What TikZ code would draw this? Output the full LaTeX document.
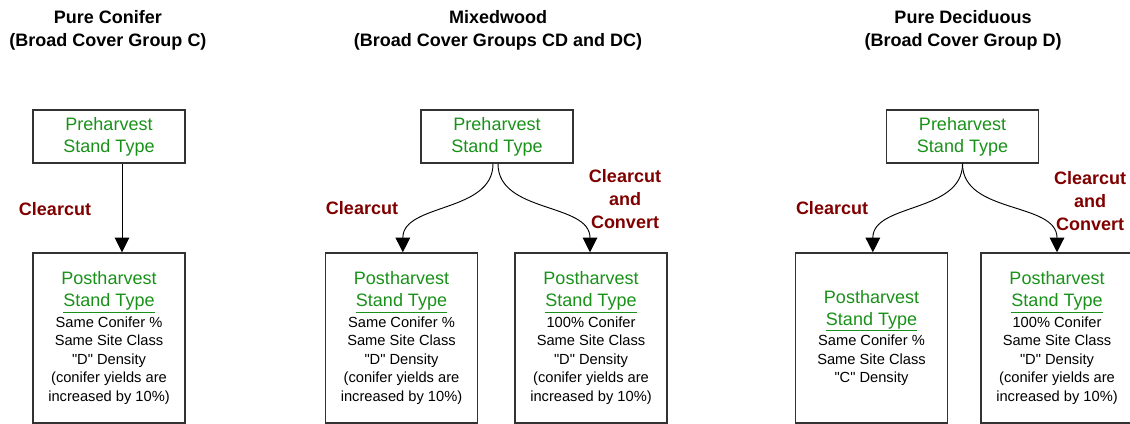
\documentclass[tikz,border=0pt]{standalone}
\usepackage{fontspec}
\setmainfont{Liberation Sans}[Ligatures=TeXOff]
\usepackage{tikz}
\usetikzlibrary{arrows.meta}
\definecolor{mgreen}{RGB}{25,145,25}
\definecolor{mred}{RGB}{128,0,0}
\definecolor{mline}{RGB}{50,50,50}
\def\mboxwidth{114pt}
\def\mprehi{39.75pt}
\def\mposthi{127.5pt}
\newcommand{\mgr}[1]{{\fontsize{13.5}{13.9}\selectfont\color{mgreen}#1}}
\tikzset{
	box/.style={draw=mline, line width=1.1pt, minimum width=\mboxwidth, align=center, inner sep=2pt},
	prebox/.style={box, minimum height=\mprehi, text=mgreen, font=\fontsize{13.5}{16.5}\selectfont},
	postbox/.style={box, minimum height=\mposthi, font=\fontsize{11}{13.9}\selectfont},
	heading/.style={align=center, font=\bfseries\fontsize{13.5}{17.25}\selectfont},
	act/.style={align=center, text=mred, font=\bfseries\fontsize{13.5}{17.25}\selectfont},
	flow/.style={draw=black, line width=0.7pt, -{Triangle[length=11pt,width=11pt]}}
}

\begin{document}
\begin{tikzpicture}[x=0.75pt, y=-0.75pt]
		\useasboundingbox (0,0) rectangle (1130,424);
		% Pure conifer
		\node[heading] (c-title) at (108,30) {Pure Conifer\\(Broad Cover Group C)};
		\node[prebox] (c-pre) at (109,136.5) {Preharvest\\Stand Type};
		\node[postbox] (c-post) at (109,338) {\mgr{Postharvest}\\[2.6pt] \mgr{\underline{Stand Type}}\\[1.6pt] Same Conifer \%\\ Same Site Class\\ "D" Density\\ (conifer yields are\\ increased by 10\%)};
		\draw[flow] ([xshift=9.75pt]c-pre.south) -- ([xshift=9.75pt]c-post.north);
		\node[act] (c-cut) at (55,209) {Clearcut};
		% Mixedwood
		\node[heading] (m-title) at (498,30) {Mixedwood\\(Broad Cover Groups CD and DC)};
		\node[prebox] (m-pre) at (497,136.5) {Preharvest\\Stand Type};
		\node[postbox] (m-post1) at (401.5,338) {\mgr{Postharvest}\\[2.6pt] \mgr{\underline{Stand Type}}\\[1.6pt] Same Conifer \%\\ Same Site Class\\ "D" Density\\ (conifer yields are\\ increased by 10\%)};
		\node[postbox] (m-post2) at (591,338) {\mgr{Postharvest}\\[2.6pt] \mgr{\underline{Stand Type}}\\[1.6pt] 100\% Conifer\\ Same Site Class\\ "D" Density\\ (conifer yields are\\ increased by 10\%)};
		\draw[flow] ([xshift=-3pt]m-pre.south) to[out=-90, in=90] ([xshift=1pt]m-post1.north);
		\draw[flow] ([xshift=0.75pt]m-pre.south) to[out=-90, in=90] ([xshift=-0.75pt]m-post2.north);
		\node[act] (m-cut) at (362,208) {Clearcut};
		\node[act] (m-conv) at (625,199) {Clearcut\\and\\Convert};
		% Pure deciduous
		\node[heading] (d-title) at (963,30) {Pure Deciduous\\(Broad Cover Group D)};
		\node[prebox] (d-pre) at (962.5,136.5) {Preharvest\\Stand Type};
		\node[postbox] (d-post1) at (871.5,338) {\mgr{Postharvest}\\[2.6pt] \mgr{\underline{Stand Type}}\\[1.6pt] Same Conifer \%\\ Same Site Class\\ "C" Density};
		\node[postbox] (d-post2) at (1057,338) {\mgr{Postharvest}\\[2.6pt] \mgr{\underline{Stand Type}}\\[1.6pt] 100\% Conifer\\ Same Site Class\\ "D" Density\\ (conifer yields are\\ increased by 10\%)};
		\draw[flow] (d-pre.south) to[out=-90, in=90] ([xshift=1pt]d-post1.north);
		\draw[flow] (d-pre.south) to[out=-90, in=90] (d-post2.north);
		\node[act] (d-cut) at (832,208) {Clearcut};
		\node[act] (d-conv) at (1090,201) {Clearcut\\and\\Convert};
	\end{tikzpicture}
\end{document}
